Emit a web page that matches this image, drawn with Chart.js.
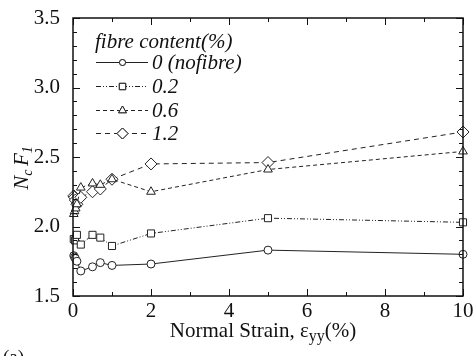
<!DOCTYPE html>
<html>
<head>
<meta charset="utf-8">
<script src="https://cdn.jsdelivr.net/npm/chart.js@4"></script>
<style>
html,body{margin:0;padding:0;background:#fff;}
#wrap{width:474px;height:356px;position:relative;}
</style>
</head>
<body>
<div id="wrap"><canvas id="grafico" width="474" height="356"></canvas></div>
<script>
/* DADOS */
const seriesNames = ['0 (nofibre)','0.2','0.6','1.2'];

const strain0  = [0.02,0.04,0.06,0.1,0.2,0.5,0.7,1,2,5,10];
const nf0      = [1.79,1.78,1.77,1.75,1.68,1.71,1.74,1.72,1.73,1.83,1.80];

const strain02 = [0.02,0.05,0.1,0.2,0.5,0.7,1,2,5,10];
const nf02     = [1.91,1.90,1.94,1.87,1.94,1.92,1.86,1.95,2.06,2.03];

const strain06 = [0.02,0.04,0.07,0.1,0.2,0.5,0.7,1,2,5,10];
const nf06     = [2.09,2.11,2.13,2.16,2.28,2.31,2.30,2.34,2.25,2.41,2.54];

const strain12 = [0.02,0.04,0.06,0.1,0.2,0.5,0.7,1,2,5,10];
const nf12     = [2.22,2.21,2.19,2.16,2.21,2.25,2.27,2.34,2.45,2.46,2.68];

const xTicks = [0,2,4,6,8,10];
const yTicks = [1.5,2.0,2.5,3.0,3.5];

const pts = (xs,ys) => xs.map((x,i)=>({x:x,y:ys[i]}));

const serif = '"Liberation Serif","Times New Roman",serif';

const estilos = [
  {pointStyle:'circle',  r:4, lr:3,   dash:[]},
  {pointStyle:'rect',    r:5, lr:4.5, dash:[5,2,1,2,1,2]},
  {pointStyle:'triangle',r:5, lr:4.5, dash:[4,3]},
  {pointStyle:'rectRot', r:6, lr:5.5, dash:[5,4]}
];
const dados = [pts(strain0,nf0),pts(strain02,nf02),pts(strain06,nf06),pts(strain12,nf12)];

const datasets = dados.map((d,i)=>({
  label: seriesNames[i],
  data: d,
  showLine: true,
  clip: false,
  borderColor:'#222',
  borderWidth:1,
  borderDash: estilos[i].dash,
  pointStyle: estilos[i].pointStyle,
  pointRadius: estilos[i].r,
  pointBackgroundColor:'#fff',
  pointBorderColor:'#222',
  pointBorderWidth:1,
  tension:0
}));

/* eixos, ticks internos, títulos e legenda */
const extras = {
  id:'extras',
  afterDraw(chart){
    const c = chart.ctx, a = chart.chartArea;
    const sx = chart.scales.x, sy = chart.scales.y;
    c.save();
    c.strokeStyle='#111';
    c.lineWidth=1.5;
    c.setLineDash([]);
    c.strokeRect(a.left,a.top,a.right-a.left,a.bottom-a.top);
    c.lineWidth=1;
    c.beginPath();
    for(let v=0; v<=10; v++){
      const px = Math.round(sx.getPixelForValue(v))+0.5;
      const len = v%2===0 ? 7 : 4;
      c.moveTo(px,a.bottom); c.lineTo(px,a.bottom-len);
      c.moveTo(px,a.top); c.lineTo(px,a.top+len);
    }
    for(let k=15; k<=35; k++){
      const py = Math.round(sy.getPixelForValue(k/10))+0.5;
      const len = k%5===0 ? 7 : 4;
      c.moveTo(a.left,py); c.lineTo(a.left+len,py);
      c.moveTo(a.right,py); c.lineTo(a.right-len,py);
    }
    c.stroke();

    // titulo eixo x
    c.fillStyle='#111';
    c.textBaseline='alphabetic';
    c.textAlign='left';
    c.font='21px '+serif;
    const t1='Normal Strain, \u03b5';
    const w1=c.measureText(t1).width;
    c.font='16px '+serif;
    const w2=c.measureText('yy').width;
    c.font='21px '+serif;
    const w3=c.measureText('(%)').width;
    let x0 = 263 - (w1+w2+w3)/2;
    c.fillText(t1,x0,337);
    c.font='16px '+serif;
    c.fillText('yy',x0+w1,341);
    c.font='21px '+serif;
    c.fillText('(%)',x0+w1+w2,337);

    // "(a)"
    c.font='19px '+serif;
    c.fillText('(a)',3,363);

    // titulo eixo y
    c.save();
    c.translate(28,168);
    c.rotate(-Math.PI/2);
    c.font='italic 21px '+serif;
    const pN=c.measureText('N').width;
    c.font='italic 14px '+serif;
    const pc=c.measureText('c ').width;
    c.font='italic 21px '+serif;
    const pF=c.measureText('F').width;
    c.font='italic 14px '+serif;
    const p1=c.measureText('1').width;
    let tx = -(pN+pc+pF+p1)/2;
    c.font='italic 21px '+serif; c.fillText('N',tx,0); tx+=pN;
    c.font='italic 14px '+serif; c.fillText('c',tx,4); tx+=pc;
    c.font='italic 21px '+serif; c.fillText('F',tx,0); tx+=pF;
    c.font='italic 14px '+serif; c.fillText('1',tx,4);
    c.restore();

    // legenda
    c.font='italic 21px '+serif;
    c.fillText('fibre content(%)',95,48);
    const rows=[62,86,110,133];
    datasets.forEach((ds,i)=>{
      const y=rows[i]+0.5;
      c.setLineDash(ds.borderDash);
      c.lineWidth=1;
      c.strokeStyle='#222';
      c.beginPath(); c.moveTo(96,y); c.lineTo(148,y); c.stroke();
      c.setLineDash([]);
      c.fillStyle='#fff';
      Chart.helpers.drawPoint(c,{pointStyle:ds.pointStyle,radius:estilos[i].lr,borderWidth:1},122.5,y);
      c.fill(); c.stroke();
      c.fillStyle='#111';
      c.font='italic 21px '+serif;
      c.fillText(ds.label,152,rows[i]+7);
    });
    c.restore();
  }
};

const ctx = document.getElementById('grafico');
new Chart(ctx,{
  type:'scatter',
  data:{datasets:datasets},
  options:{
    responsive:false,
    animation:false,
    layout:{padding:{left:0,right:11,top:18,bottom:0}},
    plugins:{legend:{display:false},tooltip:{enabled:false}},
    scales:{
      x:{
        type:'linear',min:0,max:10,
        afterBuildTicks:s=>{s.ticks=xTicks.map(v=>({value:v}));},
        afterFit:s=>{s.height=60; s.paddingLeft=0; s.paddingRight=0;},
        grid:{display:false,drawTicks:false},
        border:{display:false},
        ticks:{color:'#111',font:{family:serif,size:21},padding:3,maxRotation:0,autoSkip:false}
      },
      y:{
        type:'linear',min:1.5,max:3.5,
        afterBuildTicks:s=>{s.ticks=yTicks.map(v=>({value:v}));},
        afterFit:s=>{s.width=73; s.paddingTop=0; s.paddingBottom=0;},
        grid:{display:false,drawTicks:false},
        border:{display:false},
        ticks:{color:'#111',font:{family:serif,size:21},padding:13,callback:v=>v.toFixed(1)}
      }
    }
  },
  plugins:[extras]
});
</script>
</body>
</html>
